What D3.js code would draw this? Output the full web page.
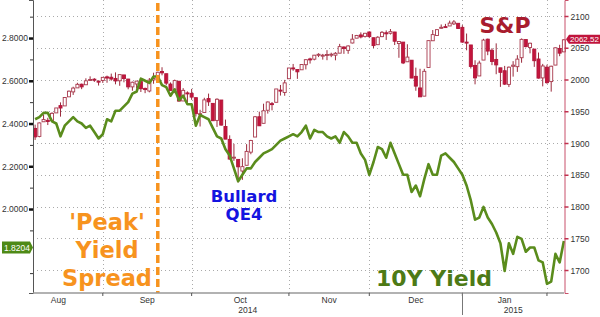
<!DOCTYPE html>
<html lang="en">
<head>
<meta charset="UTF-8">
<title>S&amp;P vs 10Y Yield</title>
<script src="https://d3js.org/d3.v7.min.js"></script>
<style>
  body { margin: 0; background: #fff; }
  svg { display: block; }
  .axis text { font-family: "Liberation Sans", Arial, sans-serif; font-size: 8.5px; fill: #333; }
  .note { font-family: "DejaVu Sans", Verdana, sans-serif; font-weight: bold; }
</style>
</head>
<body>
<script>
// trading days Aug 2014 - Feb 2015
var dates = [
  '2014-08-07','2014-08-08','2014-08-11','2014-08-12','2014-08-13','2014-08-14','2014-08-15','2014-08-18','2014-08-19','2014-08-20','2014-08-21','2014-08-22','2014-08-25','2014-08-26','2014-08-27','2014-08-28','2014-08-29',
  '2014-09-02','2014-09-03','2014-09-04','2014-09-05','2014-09-08','2014-09-09','2014-09-10','2014-09-11','2014-09-12','2014-09-15','2014-09-16','2014-09-17','2014-09-18','2014-09-19','2014-09-22','2014-09-23','2014-09-24','2014-09-25','2014-09-26','2014-09-29','2014-09-30',
  '2014-10-01','2014-10-02','2014-10-03','2014-10-06','2014-10-07','2014-10-08','2014-10-09','2014-10-10','2014-10-13','2014-10-14','2014-10-15','2014-10-16','2014-10-17','2014-10-20','2014-10-21','2014-10-22','2014-10-23','2014-10-24','2014-10-27','2014-10-28','2014-10-29','2014-10-30','2014-10-31',
  '2014-11-03','2014-11-04','2014-11-05','2014-11-06','2014-11-07','2014-11-10','2014-11-11','2014-11-12','2014-11-13','2014-11-14','2014-11-17','2014-11-18','2014-11-19','2014-11-20','2014-11-21','2014-11-24','2014-11-25','2014-11-26','2014-11-28',
  '2014-12-01','2014-12-02','2014-12-03','2014-12-04','2014-12-05','2014-12-08','2014-12-09','2014-12-10','2014-12-11','2014-12-12','2014-12-15','2014-12-16','2014-12-17','2014-12-18','2014-12-19','2014-12-22','2014-12-23','2014-12-24','2014-12-26','2014-12-29','2014-12-30','2014-12-31',
  '2015-01-02','2015-01-05','2015-01-06','2015-01-07','2015-01-08','2015-01-09','2015-01-12','2015-01-13','2015-01-14','2015-01-15','2015-01-16','2015-01-20','2015-01-21','2015-01-22','2015-01-23','2015-01-26','2015-01-27','2015-01-28','2015-01-29','2015-01-30',
  '2015-02-02','2015-02-03','2015-02-04','2015-02-05'
];

// S&P 500 daily candles
var spOpen = [
  1923.0,1910.4,1933.4,1935.7,1935.6,1947.4,1958.9,1958.4,1972.7,1980.5,1986.8,1992.6,1991.7,1998.6,2000.5,1997.4,1998.5,
  2004.1,2003.6,2001.7,1998.0,2007.2,2000.7,1988.4,1992.9,1996.7,1986.0,1981.9,1999.3,2003.1,2012.7,2009.1,1992.8,1983.3,1997.3,1966.2,1978.9,1978.2,
  1971.4,1945.8,1948.0,1970.0,1962.4,1935.6,1967.7,1926.0,1905.7,1877.1,1874.2,1855.9,1864.9,1885.6,1909.4,1941.3,1931.0,1951.6,1962.0,1964.1,1983.3,1979.5,2001.2,
  2018.2,2015.8,2015.3,2023.3,2032.4,2032.0,2038.2,2037.8,2039.2,2039.7,2038.3,2041.5,2051.2,2045.9,2057.5,2065.1,2070.2,2067.9,2074.8,
  2065.8,2054.8,2067.5,2073.6,2072.8,2074.8,2056.6,2058.9,2027.9,2030.4,2005.0,1986.7,1973.8,2018.9,2061.0,2069.3,2081.5,2083.3,2084.3,2087.6,2088.5,2082.1,
  2058.9,2054.4,2022.2,2005.6,2030.6,2063.5,2046.1,2031.6,2018.4,2013.8,1992.3,2020.8,2020.2,2034.3,2062.9,2050.4,2047.9,2032.3,2002.5,2019.4,
  1996.7,2022.7,2048.9,2043.5
];
var spHigh = [
  1928.9,1932.4,1944.9,1939.7,1948.4,1955.2,1964.0,1971.9,1982.6,1988.6,1994.8,1993.5,2001.9,2005.0,2002.1,1998.6,2003.4,
  2006.1,2009.3,2011.2,2007.7,2007.2,2001.0,1996.7,1997.7,1996.7,1987.2,2002.3,2010.7,2012.3,2019.3,2009.1,1995.4,1999.8,1997.3,1986.4,1981.3,1985.2,
  1971.4,1952.3,1971.2,1977.8,1962.4,1970.4,1967.7,1936.9,1912.1,1898.7,1874.2,1876.0,1898.2,1905.0,1942.5,1949.3,1961.9,1965.3,1964.6,1985.1,1991.4,1999.4,2018.2,
  2024.5,2015.8,2023.8,2031.6,2034.3,2038.7,2041.3,2040.3,2046.2,2042.2,2043.1,2056.1,2052.1,2053.8,2071.5,2070.2,2074.2,2073.4,2075.8,
  2065.8,2068.2,2076.3,2077.3,2079.5,2075.0,2060.6,2058.9,2055.5,2030.4,2018.7,2016.9,2016.8,2061.2,2077.9,2078.8,2086.7,2087.6,2092.7,2093.6,2088.5,2085.6,
  2072.4,2054.4,2030.3,2029.6,2064.1,2064.4,2049.3,2056.9,2018.4,2021.4,2020.5,2028.9,2038.3,2064.6,2062.9,2058.0,2047.9,2042.5,2024.6,2023.3,
  2021.7,2050.3,2054.7,2063.6
];
var spLow = [
  1904.8,1909.0,1933.4,1928.3,1935.6,1947.4,1941.5,1958.4,1972.7,1975.7,1986.8,1984.8,1991.7,1998.6,1996.2,1990.5,1994.6,
  1994.9,1998.1,1992.4,1990.1,1995.6,1984.6,1982.3,1985.9,1980.3,1978.5,1979.8,1993.3,2003.1,2006.6,1991.0,1982.4,1978.6,1965.6,1966.2,1964.0,1968.0,
  1941.7,1926.0,1948.0,1958.4,1934.9,1925.3,1927.6,1906.1,1874.1,1871.8,1838.0,1842.0,1864.9,1882.3,1909.4,1926.8,1931.0,1946.3,1951.4,1964.1,1974.7,1974.4,2001.0,
  2013.7,2001.0,2015.3,2015.9,2025.1,2030.2,2035.3,2031.3,2030.4,2035.2,2030.2,2041.5,2040.4,2040.5,2056.8,2065.1,2064.8,2066.1,2065.1,
  2049.6,2054.8,2066.7,2062.3,2070.8,2054.3,2034.2,2024.3,2027.9,2002.3,1982.3,1972.6,1973.8,2018.9,2061.0,2069.3,2079.8,2081.9,2084.3,2085.8,2079.5,2057.9,
  2046.0,2017.3,1992.4,2005.6,2030.6,2038.3,2022.6,2008.3,1988.4,1991.5,1988.1,2004.5,2012.0,2026.4,2050.5,2041.2,2019.9,2001.5,1989.2,1993.4,
  1980.9,2022.7,2036.7,2043.5
];
var spClose = [
  1909.6,1931.6,1936.9,1933.8,1946.7,1955.2,1955.1,1971.7,1981.6,1986.5,1992.4,1988.4,1997.9,2000.0,2000.1,1996.7,2003.4,
  2002.3,2000.7,1997.7,2007.7,2001.5,1988.4,1995.7,1997.5,1985.5,1984.1,1999.0,2001.6,2011.4,2010.4,1994.3,1982.8,1998.3,1966.0,1982.9,1977.8,1972.3,
  1946.2,1946.2,1967.9,1964.8,1935.1,1968.9,1928.2,1906.1,1874.7,1877.7,1862.5,1862.8,1886.8,1904.0,1941.3,1927.1,1950.8,1964.6,1961.6,1985.1,1982.3,1994.7,2018.1,
  2017.8,2012.1,2023.6,2031.2,2031.9,2038.3,2039.7,2038.3,2039.3,2039.8,2041.3,2051.8,2048.7,2052.8,2063.5,2069.4,2067.0,2072.8,2067.6,
  2053.4,2066.6,2074.3,2071.9,2075.4,2060.3,2059.8,2026.1,2035.3,2002.3,1989.6,1972.7,2012.9,2061.2,2070.7,2078.5,2082.2,2081.9,2088.8,2090.6,2080.4,2058.9,
  2058.2,2020.6,2002.6,2025.9,2062.1,2044.8,2028.3,2023.0,2011.3,1992.7,2019.4,2022.6,2032.1,2063.2,2051.8,2057.1,2029.6,2002.2,2021.3,1995.0,
  2020.9,2050.0,2041.5,2062.5
];

// US 10Y yield
var yield10 = [
  2.42,2.43,2.45,2.45,2.41,2.40,2.34,2.39,2.41,2.43,2.41,2.40,2.38,2.39,2.36,2.33,2.35,
  2.42,2.41,2.46,2.46,2.48,2.50,2.54,2.55,2.61,2.60,2.59,2.62,2.62,2.58,2.57,2.53,2.56,2.51,2.53,2.49,2.49,
  2.39,2.44,2.43,2.42,2.38,2.34,2.33,2.28,2.25,2.19,2.13,2.16,2.19,2.19,2.22,2.24,2.26,2.27,2.28,2.30,2.32,2.33,2.34,
  2.35,2.34,2.36,2.39,2.33,2.37,2.36,2.36,2.34,2.33,2.34,2.31,2.36,2.34,2.31,2.31,2.26,2.23,2.16,
  2.22,2.29,2.28,2.24,2.31,2.26,2.21,2.16,2.16,2.08,2.11,2.06,2.14,2.21,2.16,2.16,2.25,2.26,2.24,2.22,2.19,2.16,
  2.11,2.04,1.95,1.96,2.01,1.96,1.93,1.89,1.84,1.71,1.84,1.79,1.87,1.86,1.80,1.82,1.82,1.76,1.75,1.65,
  1.66,1.79,1.75,1.85
];

var spTicks = [1700, 1750, 1800, 1850, 1900, 1950, 2000, 2050, 2100];
var yieldTicks = [2.0, 2.2, 2.4, 2.6, 2.8];
var yieldMinorTicks = [1.7, 1.9, 2.1, 2.3, 2.5, 2.7, 2.9];
var monthNames = ['Jan','Feb','Mar','Apr','May','Jun','Jul','Aug','Sep','Oct','Nov','Dec'];
var lastSP = 2062.52;
var lastYield = 1.8204;
var peakDate = '2014-09-18';
var tradingDaysPerMonth = 21;

var width = 600, height = 317;
var plot = {left: 33, right: 564, top: 0, bottom: 293};

var svg = d3.select('body').append('svg').attr('width', width).attr('height', height);

var x = d3.scaleBand().domain(dates).range([plot.left, plot.right + 2]);
var cx = function(d) { return x(d) + x.bandwidth() / 2; };
var ySP = d3.scaleLinear().domain([1663.8, 2125.2]).range([plot.bottom, plot.top]);
var yYld = d3.scaleLinear().domain([1.607, 2.978]).range([plot.bottom, plot.top]);

var parse = d3.timeParse('%Y-%m-%d');
var days = dates.map(parse);

// last trading day of each month -> month boundary
var boundaries = [];
for (var i = 1; i < days.length; i++) {
  if (days[i].getMonth() !== days[i - 1].getMonth()) boundaries.push(i - 1);
}

// grid
var grid = svg.append('g').attr('stroke', '#aaa').attr('stroke-dasharray', '1,3');
grid.selectAll('line.h').data(spTicks).enter().append('line')
  .attr('x1', plot.left).attr('x2', plot.right)
  .attr('y1', d => Math.round(ySP(d)) + 0.5).attr('y2', d => Math.round(ySP(d)) + 0.5);
grid.selectAll('line.v').data(boundaries).enter().append('line')
  .attr('x1', d => Math.round(cx(dates[d])) + 0.5).attr('x2', d => Math.round(cx(dates[d])) + 0.5)
  .attr('y1', plot.top).attr('y2', plot.bottom);

// candles
var candles = dates.map(function(d, i) {
  return {date: d, o: spOpen[i], h: spHigh[i], l: spLow[i], c: spClose[i]};
});
var bodyW = Math.max(2, x.bandwidth() * 0.72);
var cg = svg.append('g');
cg.selectAll('line').data(candles).enter().append('line')
  .attr('x1', d => cx(d.date)).attr('x2', d => cx(d.date))
  .attr('y1', d => ySP(d.h)).attr('y2', d => ySP(d.l))
  .attr('stroke', '#9a2a3c').attr('stroke-width', 1);
cg.selectAll('rect').data(candles).enter().append('rect')
  .attr('x', d => cx(d.date) - bodyW / 2)
  .attr('y', d => ySP(Math.max(d.o, d.c)))
  .attr('width', bodyW)
  .attr('height', d => Math.max(1, Math.abs(ySP(d.o) - ySP(d.c))))
  .attr('fill', d => d.c >= d.o ? '#fff' : '#c4153c')
  .attr('stroke', d => d.c >= d.o ? '#a8384c' : '#b0163a')
  .attr('stroke-width', 0.9);

// 10Y line
var line = d3.line().x((d, i) => cx(dates[i])).y(d => yYld(d));
svg.append('path').datum(yield10)
  .attr('d', line).attr('fill', 'none')
  .attr('stroke', '#5a8c1c').attr('stroke-width', 2.6).attr('stroke-linejoin', 'round');

// peak marker
svg.append('line')
  .attr('x1', cx(peakDate)).attr('x2', cx(peakDate))
  .attr('y1', 3).attr('y2', plot.bottom)
  .attr('stroke', '#f7931e').attr('stroke-width', 3.5).attr('stroke-dasharray', '8,4');

// left axis (yield)
var leftAxis = svg.append('g').attr('class', 'axis').attr('transform', 'translate(' + plot.left + ',0)')
  .call(d3.axisLeft(yYld).tickValues(yieldTicks).tickFormat(d3.format('.4f')).tickSize(4).tickPadding(1));
leftAxis.select('.domain').attr('stroke', '#555');
leftAxis.selectAll('.tick line').attr('stroke', '#111').attr('stroke-width', 2.5);
var leftMinor = svg.append('g').attr('transform', 'translate(' + plot.left + ',0)')
  .call(d3.axisLeft(yYld).tickValues(yieldMinorTicks).tickFormat('').tickSize(3));
leftMinor.select('.domain').remove();
leftMinor.selectAll('.tick line').attr('stroke', '#333');

// right axis (S&P)
var rightAxis = svg.append('g').attr('class', 'axis').attr('transform', 'translate(' + (plot.right + 0.5) + ',0)')
  .call(d3.axisRight(ySP).tickValues(spTicks).tickFormat(d3.format('d')).tickSize(4).tickPadding(2));
rightAxis.select('.domain').attr('stroke', '#c8506a');
rightAxis.selectAll('.tick line').attr('stroke', '#c0304e').attr('stroke-width', 1.5);
rightAxis.selectAll('.tick text').attr('fill', '#444').attr('dy', '0.36em');

// bottom axis
var bottomAxis = svg.append('g').attr('transform', 'translate(0,' + plot.bottom + ')')
  .call(d3.axisBottom(x).tickValues(boundaries.map(i => dates[i])).tickFormat('').tickSizeInner(3).tickSizeOuter(0));
bottomAxis.select('.domain').attr('stroke', '#999').attr('stroke-width', 1.5)
  .attr('d', 'M' + plot.left + ',0H' + plot.right);
bottomAxis.selectAll('.tick line').attr('stroke', '#555');

// month labels
var step = x.step();
var monthLabels = boundaries.map(function(b, k) {
  var end = cx(dates[b]);
  var start = k > 0 ? cx(dates[boundaries[k - 1]]) : end - tradingDaysPerMonth * step;
  return {name: monthNames[days[b].getMonth()], pos: (start + end) / 2};
});
svg.append('g').attr('class', 'axis').selectAll('text').data(monthLabels).enter().append('text')
  .attr('x', d => d.pos).attr('y', 303).attr('text-anchor', 'middle').text(d => d.name);

// year labels
var yearBreaks = [];
for (var j = 1; j < days.length; j++) {
  if (days[j].getFullYear() !== days[j - 1].getFullYear()) yearBreaks.push(j - 1);
}
var yearSpans = [];
var ys = plot.left;
yearBreaks.forEach(function(b) {
  yearSpans.push({year: days[b].getFullYear(), pos: (ys + cx(dates[b])) / 2});
  ys = cx(dates[b]);
});
yearSpans.push({year: days[days.length - 1].getFullYear(), pos: (ys + plot.right) / 2});
svg.append('g').attr('class', 'axis').selectAll('text').data(yearSpans).enter().append('text')
  .attr('x', d => d.pos).attr('y', 313).attr('text-anchor', 'middle').text(d => d.year);
svg.selectAll('line.yb').data(yearBreaks).enter().append('line')
  .attr('x1', d => Math.round(cx(dates[d])) + 0.5).attr('x2', d => Math.round(cx(dates[d])) + 0.5)
  .attr('y1', plot.bottom).attr('y2', 315).attr('stroke', '#777');

// last value tags
var ty = ySP(lastSP) - 0.5;
svg.append('path')
  .attr('d', 'M' + (plot.right + 2) + ',' + ty + 'L' + (plot.right + 5) + ',' + (ty - 4.5) + 'H600V' + (ty + 4.5) + 'H' + (plot.right + 5) + 'Z')
  .attr('fill', '#c0143c');
svg.append('text').attr('x', plot.right + 6).attr('y', ty + 3)
  .attr('font-family', 'Liberation Sans, Arial, sans-serif').attr('font-size', '8px').attr('fill', '#fff')
  .text(d3.format('.2f')(lastSP));

var ly = yYld(lastYield);
svg.append('path')
  .attr('d', 'M2,' + (ly - 6) + 'H' + (plot.left - 3) + 'L' + plot.left + ',' + ly + 'L' + (plot.left - 3) + ',' + (ly + 6) + 'H2Z')
  .attr('fill', '#4e8a16');
svg.append('text').attr('x', 4).attr('y', ly + 3.2)
  .attr('font-family', 'Liberation Sans, Arial, sans-serif').attr('font-size', '8.5px').attr('fill', '#fff')
  .text(d3.format('.4f')(lastYield));

// annotations
svg.append('text').attr('class', 'note').attr('x', 505).attr('y', 33).attr('text-anchor', 'middle')
  .attr('font-size', '22px').attr('fill', '#a81c2e').text('S&P');
var peak = svg.append('text').attr('class', 'note').attr('text-anchor', 'middle')
  .attr('font-size', '22.5px').attr('fill', '#f7931e');
["'Peak'", 'Yield', 'Spread'].forEach(function(t, k) {
  peak.append('tspan').attr('x', 107).attr('y', 230 + k * 28).text(t);
});
var bullard = svg.append('text').attr('class', 'note').attr('text-anchor', 'middle')
  .attr('font-size', '16.5px').attr('fill', '#1414e0');
['Bullard', 'QE4'].forEach(function(t, k) {
  bullard.append('tspan').attr('x', 244).attr('y', 202 + k * 18).text(t);
});
svg.append('text').attr('class', 'note').attr('x', 434).attr('y', 286).attr('text-anchor', 'middle')
  .attr('font-size', '22px').attr('fill', '#4d7a16').text('10Y Yield');
</script>
</body>
</html>
